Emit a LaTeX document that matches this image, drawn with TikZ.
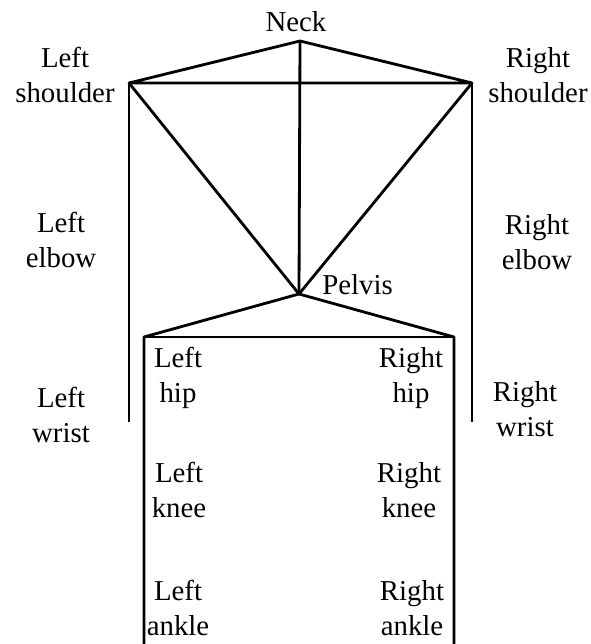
\documentclass[tikz,border=0pt]{standalone}
\usepackage{fontspec}
\setmainfont{Liberation Serif}

\begin{document}
\begin{tikzpicture}[bone/.style={line width=2pt, line join=round},
    lbl/.style={align=center, inner sep=0pt, anchor=base, font=\fontsize{20.5}{25}\selectfont}]
    \useasboundingbox (0,0) rectangle (14.775,16.1);

    \coordinate (neck) at (7.5,15.075);
    \coordinate (lsh) at (3.225,14.025);
    \coordinate (rsh) at (11.8,14.025);
    \coordinate (pelvis) at (7.475,8.75);
    \coordinate (lhip) at (3.6,7.675);
    \coordinate (rhip) at (11.35,7.675);
    \coordinate (lwr) at (3.225,5.55);
    \coordinate (rwr) at (11.8,5.55);
    \coordinate (lank) at (3.6,0);
    \coordinate (rank) at (11.35,0);

    \draw[bone] (lsh) -- (neck) -- (rsh) -- cycle;
    \draw[bone] (neck) -- (pelvis);
    \draw[bone] (lsh) -- (pelvis) -- (rsh);
    \draw[bone] (lsh) -- (lwr);
    \draw[bone] (rsh) -- (rwr);
    \draw[bone] (lank) -- (lhip) -- (pelvis) -- (rhip) -- (rank);
    \draw[bone] (lhip) -- (rhip);

    \node[lbl] (neckL) at (7.4,15.3) {Neck};
    \node[lbl] (lshL) at (1.625,13.525) {Left\\shoulder};
    \node[lbl] (rshL) at (13.45,13.525) {Right\\shoulder};
    \node[lbl] (lelL) at (1.525,9.4) {Left\\elbow};
    \node[lbl] (relL) at (13.425,9.35) {Right\\elbow};
    \node[lbl] (lwrL) at (1.525,5.025) {Left\\wrist};
    \node[lbl] (rwrL) at (13.125,5.175) {Right\\wrist};
    \node[lbl, anchor=base west] (pelvisL) at (8.05,8.725) {Pelvis};
    \node[lbl] (lhipL) at (4.45,6.025) {Left\\hip};
    \node[lbl] (rhipL) at (10.275,6.025) {Right\\hip};
    \node[lbl] (lknL) at (4.475,3.15) {Left\\knee};
    \node[lbl] (rknL) at (10.225,3.15) {Right\\knee};
    \node[lbl] (lankL) at (4.45,0.22) {Left\\ankle};
    \node[lbl] (rankL) at (10.3,0.22) {Right\\ankle};
\end{tikzpicture}
\end{document}
